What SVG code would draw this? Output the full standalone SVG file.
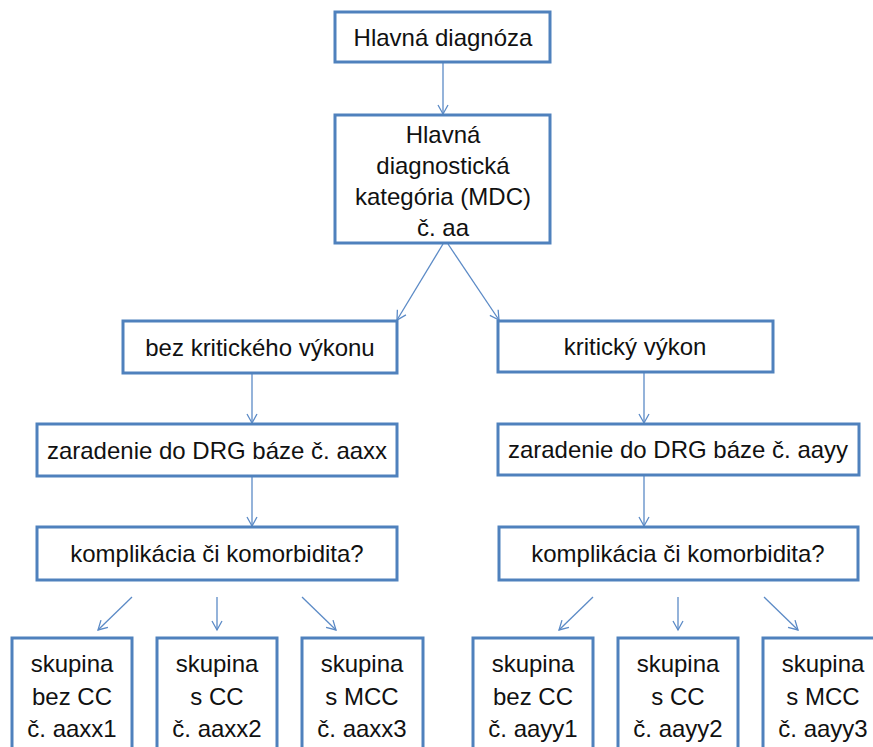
<svg xmlns="http://www.w3.org/2000/svg" width="873" height="747" viewBox="0 0 873 747">
<style>
.box{fill:#fff;stroke:#4F81BD;stroke-width:3}
.t{font-family:"Liberation Sans",Arial,sans-serif;font-size:24px;fill:#111;text-anchor:middle}
.c{stroke:#5B8AC6;stroke-width:1.3;fill:none;marker-end:url(#ah)}
</style>
<defs>
<marker id="ah" markerUnits="userSpaceOnUse" markerWidth="14" markerHeight="14" refX="10" refY="6" orient="auto" viewBox="0 0 14 12">
<path d="M1,1 L10,6 L1,11" fill="none" stroke="#5B8AC6" stroke-width="1.3"/>
</marker>
</defs>
<rect width="873" height="747" fill="#fff"/>
<g id="connectors">
<line class="c" x1="443" y1="62" x2="443" y2="114"/>
<line class="c" x1="443" y1="244" x2="397" y2="320"/>
<line class="c" x1="448" y1="244" x2="499" y2="320"/>
<line class="c" x1="252" y1="373" x2="252" y2="423"/>
<line class="c" x1="644" y1="372" x2="644" y2="423"/>
<line class="c" x1="252" y1="476" x2="252" y2="526"/>
<line class="c" x1="644" y1="475" x2="644" y2="526"/>
<line class="c" x1="132" y1="597" x2="98" y2="630"/>
<line class="c" x1="217" y1="597" x2="217" y2="630"/>
<line class="c" x1="302" y1="597" x2="336" y2="630"/>
<line class="c" x1="593" y1="597" x2="559" y2="630"/>
<line class="c" x1="678" y1="597" x2="678" y2="630"/>
<line class="c" x1="764" y1="597" x2="798" y2="630"/>
</g>
<g id="n1"><rect class="box" x="335" y="12" width="215" height="50"/><text class="t" x="443" y="46">Hlavná diagnóza</text></g>
<g id="n2"><rect class="box" x="335" y="115" width="215" height="128"/>
<text class="t" x="443" y="143">Hlavná</text>
<text class="t" x="443" y="174">diagnostická</text>
<text class="t" x="443" y="205">kategória (MDC)</text>
<text class="t" x="443" y="236">č. aa</text></g>
<g id="n3"><rect class="box" x="123" y="321" width="274" height="52"/><text class="t" x="260" y="356">bez kritického výkonu</text></g>
<g id="n4"><rect class="box" x="498" y="321" width="275" height="51"/><text class="t" x="635" y="355">kritický výkon</text></g>
<g id="n5"><rect class="box" x="37" y="424" width="360" height="52"/><text class="t" x="217" y="459">zaradenie do DRG báze č. aaxx</text></g>
<g id="n6"><rect class="box" x="498" y="424" width="361" height="51"/><text class="t" x="678" y="458">zaradenie do DRG báze č. aayy</text></g>
<g id="n7"><rect class="box" x="37" y="527" width="360" height="53"/><text class="t" x="217" y="562">komplikácia či komorbidita?</text></g>
<g id="n8"><rect class="box" x="499" y="527" width="359" height="53"/><text class="t" x="678" y="562">komplikácia či komorbidita?</text></g>
<g id="n9"><rect class="box" x="12" y="638" width="120" height="130"/>
<text class="t" x="72" y="672">skupina</text><text class="t" x="72" y="705">bez CC</text><text class="t" x="72" y="737">č. aaxx1</text></g>
<g id="n10"><rect class="box" x="157" y="638" width="120" height="130"/>
<text class="t" x="217" y="672">skupina</text><text class="t" x="217" y="705">s CC</text><text class="t" x="217" y="737">č. aaxx2</text></g>
<g id="n11"><rect class="box" x="302" y="638" width="121" height="130"/>
<text class="t" x="362" y="672">skupina</text><text class="t" x="362" y="705">s MCC</text><text class="t" x="362" y="737">č. aaxx3</text></g>
<g id="n12"><rect class="box" x="473" y="638" width="120" height="130"/>
<text class="t" x="533" y="672">skupina</text><text class="t" x="533" y="705">bez CC</text><text class="t" x="533" y="737">č. aayy1</text></g>
<g id="n13"><rect class="box" x="618" y="638" width="120" height="130"/>
<text class="t" x="678" y="672">skupina</text><text class="t" x="678" y="705">s CC</text><text class="t" x="678" y="737">č. aayy2</text></g>
<g id="n14"><rect class="box" x="763" y="638" width="121" height="130"/>
<text class="t" x="823" y="672">skupina</text><text class="t" x="823" y="705">s MCC</text><text class="t" x="823" y="737">č. aayy3</text></g>
</svg>
